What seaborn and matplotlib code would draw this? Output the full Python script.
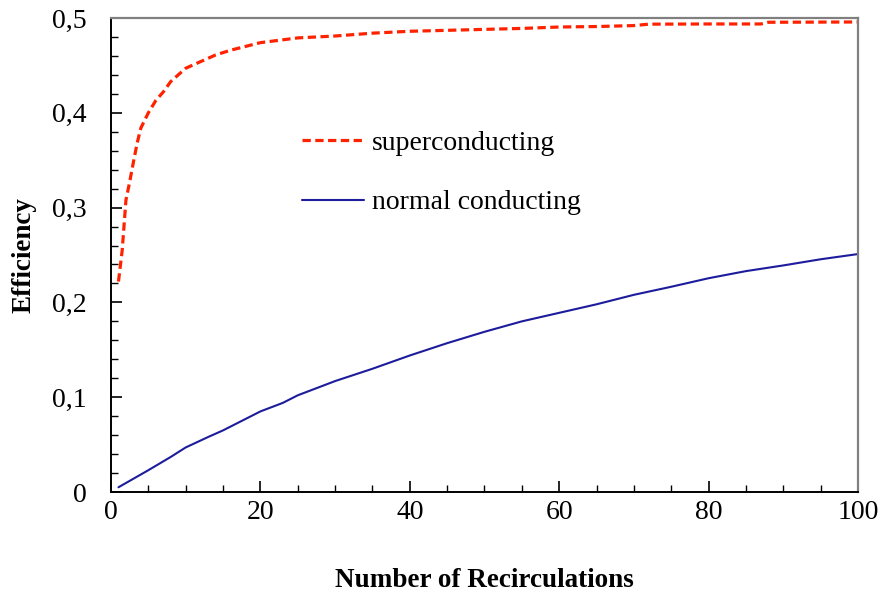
import numpy as np
import pandas as pd
import matplotlib
matplotlib.use("Agg")
import matplotlib.pyplot as plt
import seaborn as sns
from matplotlib.ticker import MultipleLocator, FuncFormatter

# --- data ---
sc_x = [1, 1.5, 2, 2.5, 3, 3.5, 4, 5, 6, 7, 8, 9, 10, 12, 14, 16, 18, 20, 22, 25, 30,
        35, 40, 45, 50, 55, 60, 65, 70, 72, 80, 87, 88, 100]
sc_y = [0.222, 0.255, 0.308, 0.327, 0.348, 0.368, 0.384, 0.400, 0.413, 0.422, 0.433,
        0.440, 0.447, 0.454, 0.461, 0.466, 0.470, 0.474, 0.476, 0.479, 0.481,
        0.484, 0.486, 0.487, 0.488, 0.489, 0.4905, 0.491, 0.492, 0.4935, 0.4937, 0.4937, 0.4955, 0.4958]

nc_x = [1, 5, 8, 10, 13, 15, 18, 20, 23, 25, 28, 30, 35, 40, 45, 50, 55, 60, 65, 70,
        75, 80, 85, 90, 95, 100]
nc_y = [0.005, 0.023, 0.037, 0.047, 0.058, 0.065, 0.077, 0.085, 0.094, 0.102, 0.111,
        0.117, 0.130, 0.144, 0.157, 0.169, 0.180, 0.189, 0.198, 0.208, 0.2165,
        0.2255, 0.233, 0.239, 0.2455, 0.251]

labels = ["superconducting", "normal conducting"]
x_label = "Number of Recirculations"
y_label = "Efficiency"

sns.set_theme(style="white")
plt.rcParams["font.family"] = ["Liberation Serif", "DejaVu Serif"]
plt.rcParams["text.color"] = "black"
plt.rcParams["axes.labelcolor"] = "black"

fig = plt.figure(figsize=(8.81, 5.95), dpi=100)
ax = fig.add_axes([111 / 881, 1 - 492 / 595, 747 / 881, 474 / 595])

df_sc = pd.DataFrame({"x": sc_x, "y": sc_y})
df_nc = pd.DataFrame({"x": nc_x, "y": nc_y})

sns.lineplot(data=df_sc, x="x", y="y", ax=ax, color="#FF2200", lw=2.3,
             linestyle=(0, (2.6, 1.4)), label=labels[0])
sns.lineplot(data=df_nc, x="x", y="y", ax=ax, color="#1C1C9C", lw=1.5,
             label=labels[1])

ax.set_xlim(0, 100)
ax.set_ylim(0, 0.5)
ax.xaxis.set_major_locator(MultipleLocator(20))
ax.xaxis.set_minor_locator(MultipleLocator(5))
ax.yaxis.set_major_locator(MultipleLocator(0.1))
ax.yaxis.set_minor_locator(MultipleLocator(0.02))
ax.yaxis.set_major_formatter(FuncFormatter(lambda v, p: "0" if abs(v) < 1e-9 else f"{v:.1f}".replace(".", ",")))
ax.xaxis.set_major_formatter(FuncFormatter(lambda v, p: f"{v:.0f}"))

ax.tick_params(axis="both", which="both", direction="in", color="black",
               bottom=True, left=True, top=False, right=False)
ax.tick_params(axis="both", which="major", length=8, width=1.2, labelsize=20,
               labelcolor="black")
ax.tick_params(axis="both", which="minor", length=5, width=1.0)
ax.tick_params(axis="y", which="major", pad=17.5)
ax.tick_params(axis="x", which="major", pad=6)

for s in ["left", "bottom"]:
    ax.spines[s].set_color("black")
    ax.spines[s].set_linewidth(1.4)
for s in ["top", "right"]:
    ax.spines[s].set_color("#808080")
    ax.spines[s].set_linewidth(1.6)

ax.set_xlabel(x_label, fontsize=19.5, fontweight="bold", color="black")
ax.set_ylabel(y_label, fontsize=19.5, fontweight="bold", color="black")
ax.xaxis.set_label_coords(0.5, -0.16)
ax.yaxis.set_label_coords(-0.1, 0.5)

leg = ax.legend(frameon=False, loc="upper left", bbox_to_anchor=(0.241, 0.787),
                fontsize=20, handlelength=2.23, handletextpad=0.29, labelspacing=1.24,
                borderaxespad=0)
for t in leg.get_texts():
    t.set_color("black")

fig.savefig("out.png", dpi=100)
